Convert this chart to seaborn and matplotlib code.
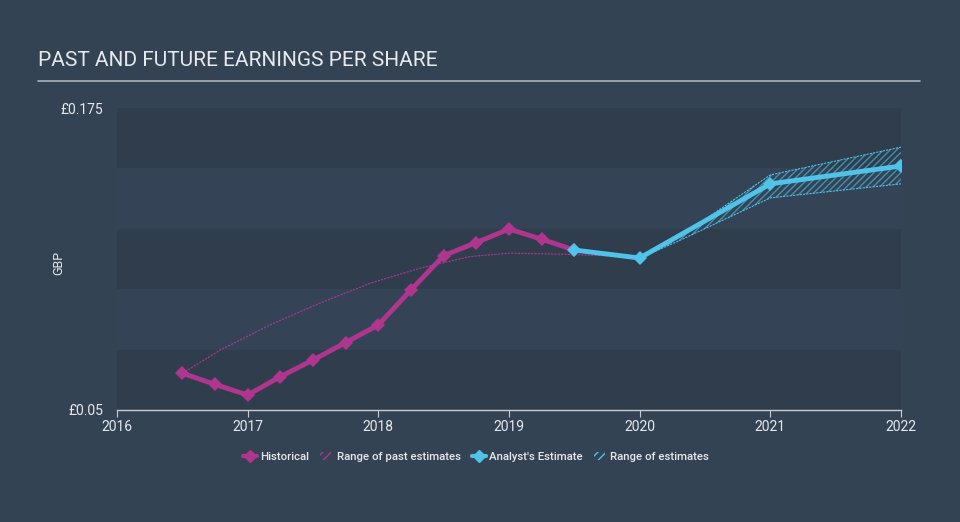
import matplotlib
matplotlib.use("Agg")
import matplotlib.pyplot as plt
import matplotlib.patches as mpatches
from matplotlib.lines import Line2D
import seaborn as sns
import pandas as pd

# Données
hist_dates = [2016.5, 2016.75, 2017.0, 2017.25, 2017.5, 2017.75, 2018.0,
              2018.25, 2018.5, 2018.75, 2019.0, 2019.25, 2019.5]
hist_eps = [0.0652, 0.0606, 0.0562, 0.0638, 0.0707, 0.0779, 0.0852,
            0.0997, 0.1139, 0.1193, 0.1249, 0.1207, 0.1162]

past_est_dates = [2016.5, 2016.79, 2017.17, 2017.55, 2017.94, 2018.32,
                  2018.7, 2019.0, 2019.4, 2019.75]
past_est_eps = [0.0652, 0.0748, 0.0852, 0.0942, 0.1025, 0.1087,
                0.1135, 0.1149, 0.1145, 0.1138]

fc_dates = [2019.5, 2020.0, 2021.0, 2022.0]
fc_eps = [0.1162, 0.1129, 0.1436, 0.1510]

range_dates = [2020.0, 2020.3, 2021.0, 2022.0]
range_low = [0.1129, 0.1200, 0.1378, 0.1436]
range_high = [0.1129, 0.1215, 0.1473, 0.1588]

BG = "#344354"
MAGENTA = "#b0358f"
CYAN = "#4fc3e8"
TXT = "#e6e9ed"

sns.set_style("dark")
plt.rcParams["font.family"] = ["Roboto", "DejaVu Sans"]

fig = plt.figure(figsize=(9.6, 5.22), dpi=100, facecolor=BG)
ax = fig.add_axes([0.1219, 0.2146, 0.8166, 0.5785])
ax.set_facecolor(BG)

# Bandes horizontales
for i, lo in enumerate([0.05, 0.075, 0.1, 0.125, 0.15]):
    col = "#2f3d4d" if i % 2 == 0 else "#344456"
    ax.axhspan(lo, lo + 0.025, color=col, zorder=0, lw=0)

# Estimations passées (pointillé)
df_past = pd.DataFrame({"date": past_est_dates, "eps": past_est_eps})
sns.lineplot(data=df_past, x="date", y="eps", ax=ax, color=MAGENTA,
             lw=0.8, linestyle=(0, (2, 1)), zorder=2)

# Fourchette des estimations
ax.fill_between(range_dates, range_low, range_high, facecolor="none",
                edgecolor=CYAN, hatch="/////", lw=0, alpha=0.6, zorder=2)
ax.plot(range_dates, range_low, color=CYAN, lw=0.8, ls=(0, (2, 1)), zorder=2)
ax.plot(range_dates, range_high, color=CYAN, lw=0.8, ls=(0, (2, 1)), zorder=2)

# Historique
df_hist = pd.DataFrame({"date": hist_dates, "eps": hist_eps})
sns.lineplot(data=df_hist, x="date", y="eps", ax=ax, color=MAGENTA, lw=3.5,
             marker="D", markersize=7, markeredgewidth=0, zorder=3)

# Estimation des analystes
df_fc = pd.DataFrame({"date": fc_dates, "eps": fc_eps})
sns.lineplot(data=df_fc, x="date", y="eps", ax=ax, color=CYAN, lw=3.5,
             marker="D", markersize=7, markeredgewidth=0, zorder=4)

ax.set_xlim(2016, 2022)
ax.set_ylim(0.05, 0.175)
ax.set_xticks(range(2016, 2023))
ax.set_xticklabels([str(y) for y in range(2016, 2023)], color=TXT, fontsize=10)
ax.set_yticks([0.05, 0.175])
ax.set_yticklabels(["£0.05", "£0.175"], color=TXT, fontsize=10)
ax.tick_params(axis="x", length=5, color="#c8ccd2", pad=2, bottom=True)
ax.tick_params(axis="y", length=0, pad=10)
ax.set_xlabel("")
ax.set_ylabel("GBP", color=TXT, fontsize=9)
ax.yaxis.set_label_coords(-0.066, 0.487)
for s in ["top", "right", "left"]:
    ax.spines[s].set_visible(False)
ax.spines["bottom"].set_color("#c8ccd2")
ax.spines["bottom"].set_linewidth(1)
ax.grid(False)

# Titre et soulignement
fig.text(0.040, 0.865, "PAST AND FUTURE EARNINGS PER SHARE", color=TXT,
         fontsize=15, ha="left", va="bottom")
fig.add_artist(Line2D([0.040, 0.958], [0.845, 0.845], color="#aab2bc", lw=1.2))

# Légende
handles = [
    Line2D([0], [0], color=MAGENTA, lw=3, marker="D", markersize=6),
    mpatches.Patch(facecolor="none", edgecolor=MAGENTA, hatch="////", lw=0),
    Line2D([0], [0], color=CYAN, lw=3, marker="D", markersize=6),
    mpatches.Patch(facecolor="none", edgecolor=CYAN, hatch="////", lw=0),
]
labels = ["Historical", "Range of past estimates", "Analyst's Estimate",
          "Range of estimates"]
fig.legend(handles, labels, loc="center", bbox_to_anchor=(0.496, 0.124),
           ncol=4, frameon=False, prop={"size": 8.2, "weight": "medium"},
           labelcolor=TXT, handlelength=1.2, handletextpad=0.25,
           columnspacing=1.0)
for h in fig.legends[0].legend_handles[1::2]:
    h.set_width(8)

fig.savefig("out.png", dpi=100, facecolor=BG)
